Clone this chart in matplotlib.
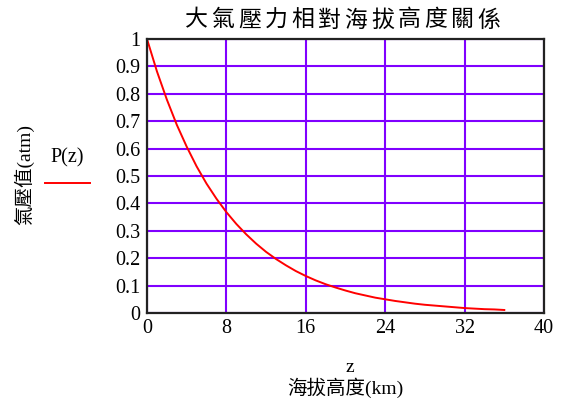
import matplotlib
matplotlib.use("Agg")
import matplotlib.pyplot as plt

# data
altitude_km = list(range(0, 37))
pressure_atm = [1.000, 0.882, 0.779, 0.687, 0.607, 0.535, 0.472, 0.417, 0.368,
                0.325, 0.287, 0.253, 0.223, 0.197, 0.174, 0.153, 0.135, 0.119,
                0.105, 0.093, 0.082, 0.072, 0.064, 0.056, 0.050, 0.044, 0.039,
                0.034, 0.030, 0.027, 0.024, 0.021, 0.018, 0.016, 0.014, 0.013,
                0.011]
x_ticks = [0, 8, 16, 24, 32, 40]
y_ticks = [0, 0.1, 0.2, 0.3, 0.4, 0.5, 0.6, 0.7, 0.8, 0.9, 1]
y_tick_labels = ["0", "0.1", "0.2", "0.3", "0.4", "0.5", "0.6", "0.7", "0.8", "0.9", "1"]

title = "大氣壓力相對海拔高度關係"
ylabel = "氣壓值(atm)"
xlabel_var = "z"
xlabel = "海拔高度(km)"
legend_label = "P(z)"

cjk = ["Noto Sans CJK TC", "DejaVu Sans"]
serif = ["Liberation Serif", "Noto Sans CJK TC"]

W, H = 571, 405
fig = plt.figure(figsize=(W / 100, H / 100), dpi=100)
fig.patch.set_facecolor("white")

left, right, top, bottom = 147, 544, 39, 313
ax = fig.add_axes([left / W, 1 - bottom / H, (right - left) / W, (bottom - top) / H])

ax.plot(altitude_km, pressure_atm, color="#ff0000", lw=1.4, zorder=3)
ax.set_xlim(0, 40)
ax.set_ylim(0, 1)
ax.set_xticks(x_ticks)
ax.set_yticks(y_ticks)
ax.set_xticklabels([str(t) for t in x_ticks], family=serif, fontsize=14.5)
ax.set_yticklabels(y_tick_labels, family=serif, fontsize=14.5)
ax.tick_params(axis="y", length=0, pad=5)
ax.tick_params(axis="x", length=0, pad=4)
ax.grid(True, color="#8000ff", lw=1.5)
for s in ax.spines.values():
    s.set_color("#222222")
    s.set_linewidth(1.6)
    s.set_zorder(4)

# title: characters spread evenly as in the reference
t_left, t_right = 183, 502
step = (t_right - t_left) / len(title)
for i, ch in enumerate(title):
    fig.text((t_left + step * (i + 0.5)) / W, 1 - 20 / H, ch, family=cjk, fontsize=16.5,
             fontweight="light", ha="center", va="center")

fig.text(24 / W, 1 - 175 / H, ylabel, family=serif, fontsize=14, ha="center", va="center",
         rotation=90)
fig.text(350 / W, 1 - 368 / H, xlabel_var, family=serif, fontsize=14, ha="center", va="center")
fig.text(345 / W, 1 - 388 / H, xlabel, family=serif,
         fontsize=14, ha="center", va="center")

# legend drawn to the left of the y axis
fig.text(67.5 / W, 1 - 158 / H, legend_label, family=serif, fontsize=14.5, ha="center", va="center")
fig.add_artist(plt.Line2D([45 / W, 90 / W], [1 - 183 / H, 1 - 183 / H], color="#ff0000", lw=1.4))

fig.savefig("out.png", dpi=100)
